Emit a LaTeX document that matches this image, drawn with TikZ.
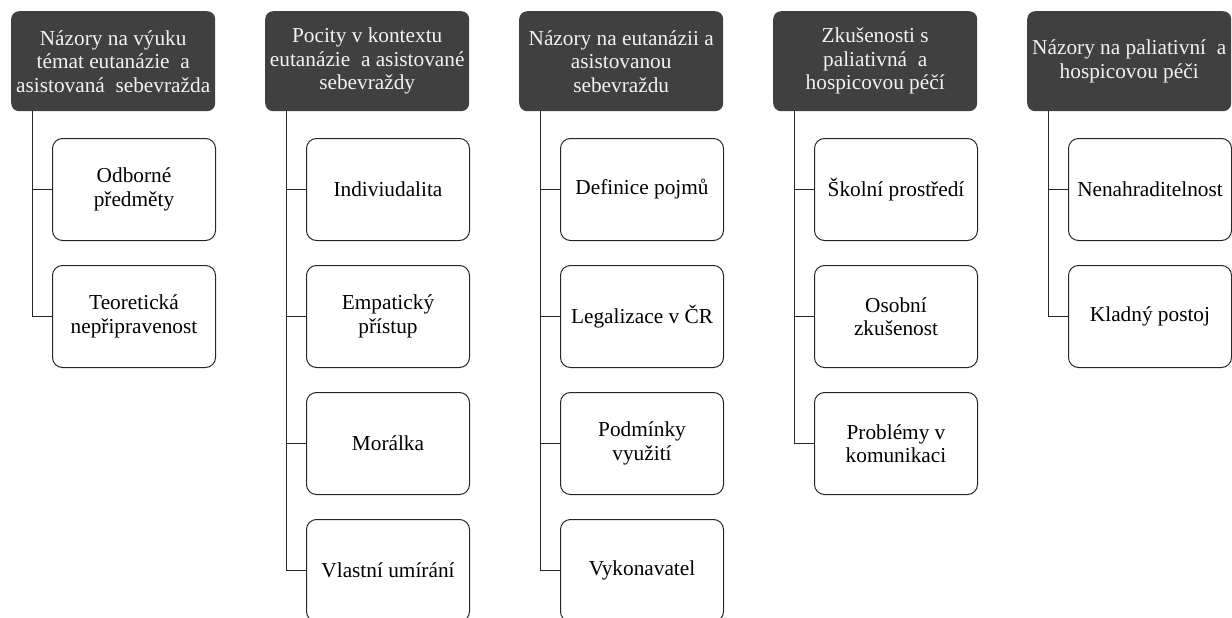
\documentclass[tikz,border=0pt]{standalone}
\usepackage{fontspec}
\setmainfont{Liberation Serif}
\definecolor{hdrgray}{HTML}{404040}
\definecolor{hdrtext}{HTML}{F2F2F2}
\definecolor{edge}{HTML}{262626}
\begin{document}
\begin{tikzpicture}[x=1pt,y=-1pt,
  hdr/.style={anchor=north west, fill=hdrgray, rounded corners=8pt, minimum width=204pt, minimum height=100pt,
    text=hdrtext, align=center, inner sep=1pt, font=\fontsize{21.3}{23.5}\selectfont},
  kid/.style={anchor=north west, draw=edge, line width=1pt, fill=white, rounded corners=10pt, minimum width=163pt,
    minimum height=102pt, align=center, inner sep=1pt, text=black, font=\fontsize{21.3}{23.5}\selectfont},
  conn/.style={draw=edge, line width=1pt}]
\useasboundingbox (0,0) rectangle (1232,618);
% headers
\node[hdr] (h1) at (11,11) {Názory na výuku\\témat eutanázie~ a\\asistovaná~ sebevražda};
\node[hdr] (h2) at (265,11) {Pocity v kontextu\\eutanázie~ a asistované\\sebevraždy};
\node[hdr] (h3) at (519,11) {Názory na eutanázii a\\asistovanou\\sebevraždu};
\node[hdr] (h4) at (773,11) {Zkušenosti s\\paliativná~ a\\hospicovou péčí};
\node[hdr] (h5) at (1027,11) {Názory na paliativní~ a\\hospicovou péči};
% column 1
\node[kid] (c11) at (52,138) {Odborné\\předměty};
\node[kid] (c12) at (52,265) {Teoretická\\nepřipravenost};
% column 2
\node[kid] (c21) at (306,138) {Indiviudalita};
\node[kid] (c22) at (306,265) {Empatický\\přístup};
\node[kid] (c23) at (306,392) {Morálka};
\node[kid] (c24) at (306,519) {Vlastní umírání};
% column 3
\node[kid] (c31) at (560,138) {Definice pojmů};
\node[kid] (c32) at (560,265) {Legalizace v ČR};
\node[kid] (c33) at (560,392) {Podmínky\\využití};
\node[kid] (c34) at (560,519) {Vykonavatel};
% column 4
\node[kid] (c41) at (814,138) {Školní prostředí};
\node[kid] (c42) at (814,265) {Osobní\\zkušenost};
\node[kid] (c43) at (814,392) {Problémy v\\komunikaci};
% column 5
\node[kid] (c51) at (1068,138) {Nenahraditelnost};
\node[kid] (c52) at (1068,265) {Kladný postoj};
% connectors
\foreach \h/\kids in {h1/{c11,c12}, h2/{c21,c22,c23,c24}, h3/{c31,c32,c33,c34}, h4/{c41,c42,c43}, h5/{c51,c52}}{
  \foreach \k in \kids {
    \draw[conn] ([xshift=21pt]\h.south west) |- (\k.west);
  }
}
\end{tikzpicture}
\end{document}
